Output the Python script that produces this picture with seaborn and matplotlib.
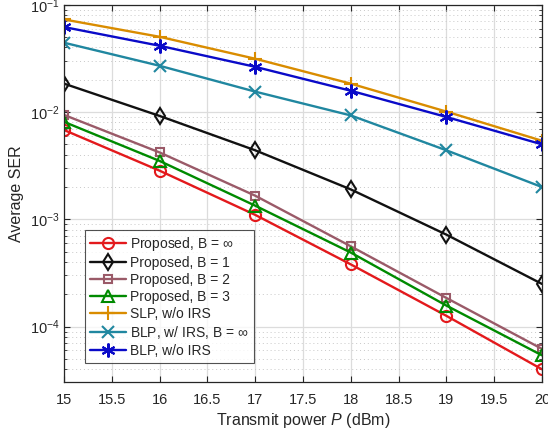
import numpy as np
import pandas as pd
import matplotlib
matplotlib.use("Agg")
import matplotlib.pyplot as plt
import seaborn as sns
from matplotlib.ticker import LogLocator, NullFormatter, FormatStrFormatter

sns.set_style("ticks")
plt.rcParams['font.family'] = ['Liberation Sans', 'DejaVu Sans']
plt.rcParams['mathtext.fontset'] = 'custom'
plt.rcParams['mathtext.rm'] = 'Liberation Sans'
plt.rcParams['mathtext.it'] = 'Liberation Sans:italic'

# === data ===
power = [15, 16, 17, 18, 19, 20]
xticks = [15, 15.5, 16, 16.5, 17, 17.5, 18, 18.5, 19, 19.5, 20]
labels = [
    r"Proposed, B = $\infty$",
    "Proposed, B = 1",
    "Proposed, B = 2",
    "Proposed, B = 3",
    "SLP, w/o IRS",
    r"BLP, w/ IRS, B = $\infty$",
    "BLP, w/o IRS",
]
ser_prop_inf = [0.0068, 0.00284, 0.0011, 0.00038, 0.000126, 0.000040]
ser_prop_b1 = [0.0184, 0.0092, 0.0044, 0.0019, 0.00072, 0.00025]
ser_prop_b2 = [0.0094, 0.0042, 0.00166, 0.00056, 0.000185, 0.000062]
ser_prop_b3 = [0.0081, 0.0035, 0.00134, 0.00049, 0.000157, 0.000054]
ser_slp = [0.073, 0.0503, 0.0314, 0.0184, 0.0101, 0.0054]
ser_blp_irs = [0.0443, 0.027, 0.0155, 0.0093, 0.0044, 0.0020]
ser_blp = [0.062, 0.0415, 0.0264, 0.0158, 0.0090, 0.0050]
series = [ser_prop_inf, ser_prop_b1, ser_prop_b2, ser_prop_b3, ser_slp, ser_blp_irs, ser_blp]

colors = ["#e3191c", "#111111", "#9a5a68", "#008a00", "#d98c00", "#2087a0", "#0a0ac8"]
markers = ["o", "d", "s", "^", "+", "x", (6, 2, 0)]
msizes = [8, 8, 6, 8, 10, 8, 10]

df = pd.concat([pd.DataFrame({"P": power, "SER": s, "scheme": l})
                for s, l in zip(series, labels)])

fig = plt.figure(figsize=(5.48, 4.36), dpi=100)
ax = fig.add_axes([0.117, 0.124, 0.872, 0.865])

for lab, c, m, ms in zip(labels, colors, markers, msizes):
    sub = df[df["scheme"] == lab]
    sns.lineplot(data=sub, x="P", y="SER", ax=ax, color=c, marker=m,
                 markersize=ms, markerfacecolor="none", markeredgecolor=c,
                 markeredgewidth=1.5, linewidth=1.7, label=lab)

ax.set_yscale("log")
ax.set_xlim(15, 20)
ax.set_ylim(3.05e-5, 0.1)
ax.set_xticks(xticks)
ax.xaxis.set_major_formatter(FormatStrFormatter("%g"))
ax.yaxis.set_major_locator(LogLocator(base=10, numticks=10))
ax.yaxis.set_minor_locator(LogLocator(base=10, subs=np.arange(2, 10), numticks=20))
ax.yaxis.set_minor_formatter(NullFormatter())

ax.grid(which="major", color="#dcdcdc", linewidth=0.9)
ax.grid(which="minor", axis="y", color="#c8c8c8", linestyle=(0, (1, 3)), linewidth=0.7)
ax.tick_params(which="both", direction="in", top=True, right=True, labelsize=10.5,
               colors="#262626", length=4)
ax.tick_params(axis="x", pad=8)
ax.tick_params(which="minor", length=2.5)
for sp in ax.spines.values():
    sp.set_color("#262626")
    sp.set_linewidth(0.9)

ax.set_xlabel(r"Transmit power $\it{P}$ (dBm)", fontsize=11.5, color="#262626", labelpad=3)
ax.set_ylabel("Average SER", fontsize=11.5, color="#262626")

leg = ax.legend(loc="lower left", bbox_to_anchor=(0.044, 0.05), borderaxespad=0,
                fontsize=10, frameon=True, fancybox=False, edgecolor="#262626",
                handlelength=2.6, borderpad=0.35, labelspacing=0.22, handletextpad=0.3)
leg.get_frame().set_linewidth(0.8)

fig.savefig("out.png", dpi=100)
